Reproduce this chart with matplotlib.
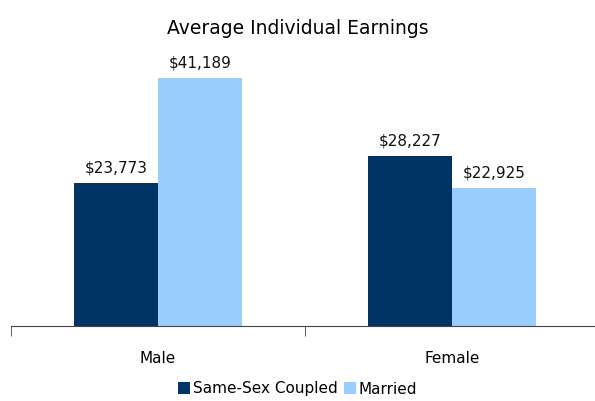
import numpy as np
import matplotlib
matplotlib.use("Agg")
import matplotlib.pyplot as plt

categories = ["Male", "Female"]
series_names = ["Same-Sex Coupled", "Married"]
same_sex = [23773, 28227]
married = [41189, 22925]

colors = ["#003366", "#99CCFF"]

fig = plt.figure(figsize=(5.95, 4.01), dpi=100)
ax = fig.add_axes([11 / 595, 1 - 326 / 401, 588 / 595, 271 / 401])

x = np.arange(len(categories))
w = 0.286
b1 = ax.bar(x - w / 2, same_sex, w, color=colors[0], label=series_names[0])
b2 = ax.bar(x + w / 2, married, w, color=colors[1], label=series_names[1])

for bars in (b1, b2):
    for r in bars:
        ax.text(r.get_x() + r.get_width() / 2, r.get_height() + 1200,
                f"${r.get_height():,.0f}", ha="center", va="bottom",
                fontsize=11, color="#111111")

ax.set_xlim(-0.5, 1.5)
ax.set_ylim(0, 45000)
ax.set_yticks([])
for s in ["top", "right", "left"]:
    ax.spines[s].set_visible(False)
ax.spines["bottom"].set_color("#444444")

ax.set_xticks(x)
ax.set_xticklabels(categories, fontsize=11)
ax.tick_params(axis="x", which="major", length=0, pad=18)
ax.set_xticks([-0.5, 0.5, 1.5], minor=True)
ax.tick_params(axis="x", which="minor", length=7, color="#444444")

fig.suptitle("Average Individual Earnings", y=1 - 28 / 401, va="center", fontsize=13.5)

fig.legend(loc="center", bbox_to_anchor=(0.5, 1 - 389 / 401), ncol=2, frameon=False,
           fontsize=11, handlelength=0.8, handleheight=0.8, handletextpad=0.2,
           columnspacing=0.4)

fig.savefig("out.png", dpi=100)
